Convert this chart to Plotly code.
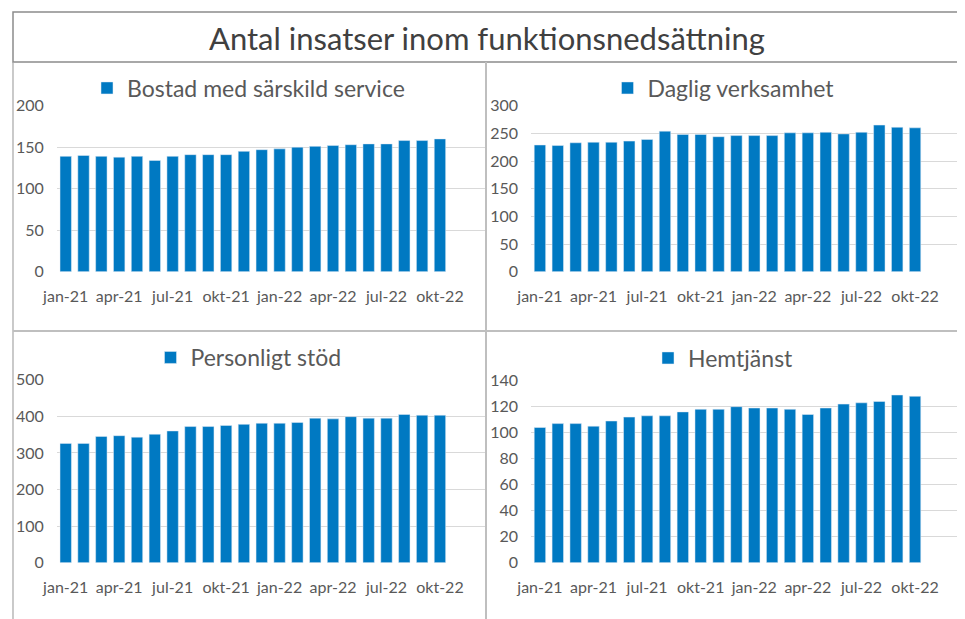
import plotly.graph_objects as go

months = ["jan-21", "feb-21", "mar-21", "apr-21", "maj-21", "jun-21", "jul-21", "aug-21",
          "sep-21", "okt-21", "nov-21", "dec-21", "jan-22", "feb-22", "mar-22", "apr-22",
          "maj-22", "jun-22", "jul-22", "aug-22", "sep-22", "okt-22"]
tick_labels = ["jan-21", "apr-21", "jul-21", "okt-21", "jan-22", "apr-22", "jul-22", "okt-22"]

bostad = [139, 140, 139, 138, 139, 134, 139, 141, 141, 141, 145, 147, 148, 150, 151, 152,
          153, 154, 154, 158, 158, 160]
daglig = [229, 228, 233, 234, 234, 236, 239, 254, 248, 248, 244, 246, 246, 246, 251, 251,
          252, 249, 252, 265, 261, 260]
personligt = [326, 326, 345, 347, 343, 351, 360, 372, 372, 375, 378, 381, 381, 383, 395, 393,
              399, 395, 395, 405, 403, 403]
hemtjanst = [104, 107, 107, 105, 109, 112, 113, 113, 116, 118, 118, 120, 119, 119, 118, 114,
             119, 122, 123, 124, 129, 128]

names = ["Bostad med särskild service", "Daglig verksamhet", "Personligt stöd", "Hemtjänst"]
series = [bostad, daglig, personligt, hemtjanst]
yranges = [[0, 200], [0, 300], [0, 500], [0, 140]]
ydticks = [50, 50, 100, 20]

# the page body has an 8px margin, so the figure is placed at (8, 8) in the window
OFF = 8
W, H = 965 - OFF, 619 - OFF
BAR = "#0079C2"
TXT = "#595959"
FONT = "Lato"


def px(x):
    return (x - OFF) / W


def py(y):
    return 1 - (y - OFF) / H


# panel plot areas in window pixels: (left, right, top, bottom)
areas = [(56.8, 484.5, 105.7, 271.7), (531.0, 959.7, 105.7, 271.7),
         (56.8, 484.5, 379.7, 562.7), (531.0, 959.7, 380.7, 562.7)]
legend_pos = [(248.5, 88), (723.5, 88), (248.5, 357.5), (723.5, 358)]

fig = go.Figure()
for i in range(4):
    sfx = "" if i == 0 else str(i + 1)
    lg = "legend" if i == 0 else f"legend{i + 1}"
    fig.add_trace(go.Bar(x=months, y=series[i], name=names[i], marker_color=BAR,
                         xaxis="x" + sfx, yaxis="y" + sfx, legend=lg, showlegend=True))
    l, r, t, b = areas[i]
    fig.layout["xaxis" + sfx] = dict(
        domain=[px(l), min(px(r), 1)], anchor="y" + sfx, type="category",
        categoryorder="array", categoryarray=months, automargin=False,
        range=[-0.5, 23.5], tickmode="array", tickvals=tick_labels, ticktext=tick_labels,
        showgrid=False, showline=False, ticks="", zeroline=False, ticklabelstandoff=13,
        tickfont=dict(family=FONT, size=16, color=TXT), tickangle=0, fixedrange=True)
    fig.layout["yaxis" + sfx] = dict(
        domain=[py(b), py(t)], anchor="x" + sfx, range=yranges[i],
        dtick=ydticks[i], showgrid=True, gridcolor="#D9D9D9", gridwidth=1,
        zeroline=False, showline=False, ticks="", ticklabelstandoff=12, automargin=False,
        tickfont=dict(family=FONT, size=16, color=TXT), fixedrange=True)
    lx, ly = legend_pos[i]
    fig.layout[lg] = dict(x=px(lx), y=py(ly), xanchor="center", yanchor="middle",
                          orientation="h", bgcolor="rgba(0,0,0,0)",
                          font=dict(family=FONT, size=23, color=TXT))

shapes = [
    dict(type="rect", x0=px(13), x1=px(960), y0=py(62), y1=py(12),
         line=dict(color="#8C8C8C", width=1.5)),
    dict(type="line", x0=px(13), x1=px(13), y0=-0.02, y1=py(62),
         line=dict(color="#A6A6A6", width=1.2)),
    dict(type="line", x0=px(960), x1=px(960), y0=-0.02, y1=py(62),
         line=dict(color="#D9D9D9", width=1.2)),
    dict(type="line", x0=px(486), x1=px(486), y0=-0.02, y1=py(62),
         line=dict(color="#BFBFBF", width=2)),
    dict(type="line", x0=px(13), x1=px(960), y0=py(331), y1=py(331),
         line=dict(color="#BFBFBF", width=2)),
]
for s in shapes:
    s["xref"] = "paper"
    s["yref"] = "paper"

fig.update_layout(
    width=W, height=H, margin=dict(l=0, r=0, t=0, b=0),
    paper_bgcolor="white", plot_bgcolor="white",
    bargap=0.36, shapes=shapes,
    annotations=[dict(text="Antal insatser inom funktionsnedsättning", x=px(486.5),
                      y=py(38), xref="paper", yref="paper", xanchor="center",
                      yanchor="middle", showarrow=False,
                      font=dict(family=FONT, size=31, color="#404040"))],
)

fig.write_html("out.html")
